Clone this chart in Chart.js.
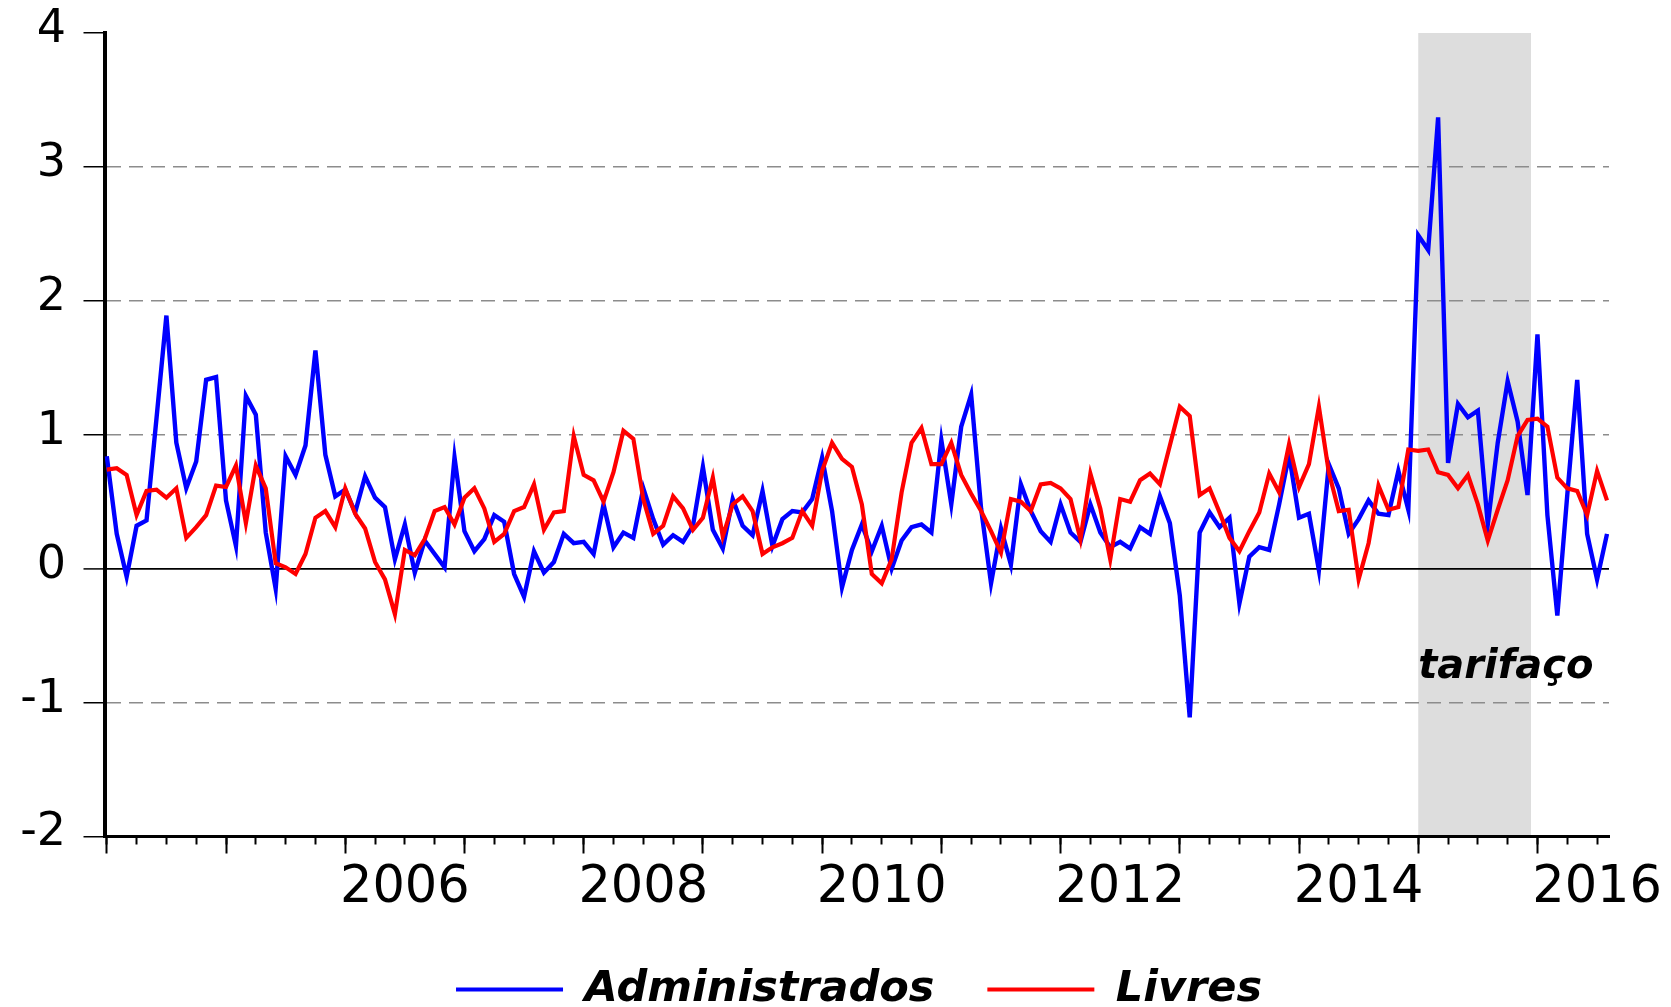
<!DOCTYPE html>
<html>
<head>
<meta charset="utf-8">
<script src="https://cdn.jsdelivr.net/npm/chart.js@4.4.1/dist/chart.umd.min.js"></script>
<style>
  html, body { margin: 0; padding: 0; background: #fff; }
  #wrap { width: 1671px; height: 1007px; position: relative; }
</style>
</head>
<body>
<div id="wrap"><canvas id="chart"></canvas></div>
<script>
// monthly variation (%), jan/2004 - aug/2016
const adm = [
  0.84, 0.26, -0.06, 0.32, 0.36, 1.12, 1.89, 0.94, 0.60, 0.80, 1.41, 1.43,
  0.51, 0.17, 1.29, 1.15, 0.27, -0.15, 0.84, 0.70, 0.92, 1.63, 0.85, 0.54,
  0.59, 0.42, 0.69, 0.53, 0.46, 0.07, 0.33, -0.03, 0.21, 0.11, 0.01, 0.83,
  0.28, 0.13, 0.22, 0.40, 0.35, -0.04, -0.21, 0.13, -0.03, 0.05, 0.26, 0.19,
  0.20, 0.11, 0.48, 0.16, 0.27, 0.23, 0.60, 0.37, 0.18, 0.25, 0.20, 0.32,
  0.76, 0.29, 0.15, 0.52, 0.32, 0.25, 0.58, 0.17, 0.37, 0.43, 0.42, 0.52,
  0.83, 0.43, -0.14, 0.14, 0.33, 0.13, 0.32, 0.00, 0.21, 0.31, 0.33, 0.27,
  0.96, 0.48, 1.06, 1.30, 0.45, -0.11, 0.30, 0.03, 0.63, 0.43, 0.28, 0.20,
  0.48, 0.27, 0.20, 0.48, 0.27, 0.16, 0.20, 0.15, 0.31, 0.26, 0.54, 0.34,
  -0.20, -1.11, 0.27, 0.42, 0.31, 0.38, -0.26, 0.09, 0.16, 0.14, 0.48, 0.85,
  0.38, 0.41, -0.01, 0.78, 0.60, 0.26, 0.37, 0.51, 0.41, 0.40, 0.73, 0.44,
  2.49, 2.38, 3.37, 0.79, 1.23, 1.13, 1.18, 0.33, 0.94, 1.40, 1.10, 0.55,
  1.75, 0.40, -0.35, 0.55, 1.41, 0.26, -0.08, 0.26
];
const livres = [
  0.74, 0.75, 0.70, 0.40, 0.58, 0.59, 0.53, 0.60, 0.23, 0.31, 0.40, 0.62,
  0.61, 0.77, 0.34, 0.77, 0.60, 0.04, 0.01, -0.04, 0.11, 0.38, 0.43, 0.31,
  0.60, 0.41, 0.30, 0.05, -0.08, -0.34, 0.14, 0.10, 0.22, 0.43, 0.46, 0.33,
  0.53, 0.60, 0.45, 0.20, 0.26, 0.43, 0.46, 0.63, 0.29, 0.42, 0.43, 0.99,
  0.70, 0.66, 0.50, 0.72, 1.03, 0.97, 0.52, 0.26, 0.32, 0.54, 0.45, 0.29,
  0.38, 0.68, 0.24, 0.48, 0.54, 0.43, 0.11, 0.16, 0.19, 0.23, 0.43, 0.32,
  0.73, 0.94, 0.82, 0.76, 0.48, -0.04, -0.11, 0.07, 0.57, 0.94, 1.05, 0.78,
  0.78, 0.94, 0.70, 0.56, 0.43, 0.28, 0.12, 0.52, 0.50, 0.43, 0.63, 0.64,
  0.60, 0.52, 0.22, 0.71, 0.45, 0.07, 0.52, 0.50, 0.66, 0.71, 0.63, 0.92,
  1.21, 1.14, 0.55, 0.60, 0.42, 0.23, 0.13, 0.28, 0.42, 0.71, 0.57, 0.93,
  0.61, 0.78, 1.21, 0.72, 0.43, 0.44, -0.08, 0.19, 0.62, 0.44, 0.46, 0.89,
  0.88, 0.89, 0.72, 0.70, 0.60, 0.70, 0.48, 0.21, 0.44, 0.66, 0.99, 1.11,
  1.12, 1.06, 0.68, 0.60, 0.58, 0.40, 0.73, 0.51
];

const startYear = 2004;
const months = adm.map((_, i) => (startYear + Math.floor(i / 12)) + '-' + String(i % 12 + 1).padStart(2, '0'));
const yearLabels = ['2006', '2008', '2010', '2012', '2014', '2016'];   // drawn under july of each year
const shadeStart = '2015-01';
const shadeEnd = '2015-12';
const shadeLabel = 'tarifaço';

const quarterTicks = months.map((m, i) => i).filter(i => i % 3 === 0);
const yearTicks = months.map((m, i) => i).filter(i => i % 12 === 0);

const xMin = -0.23, xMax = 151.2;

// grey band + its label
const tarifacoPlugin = {
  id: 'tarifaco',
  beforeDraw(chart) {
    const { ctx, chartArea, scales } = chart;
    const x0 = scales.x.getPixelForValue(months.indexOf(shadeStart));
    const x1 = scales.x.getPixelForValue(months.indexOf(shadeEnd) + 0.35);
    ctx.save();
    ctx.fillStyle = '#dddddd';
    ctx.fillRect(x0, chartArea.top, x1 - x0, chartArea.bottom - chartArea.top);
    ctx.restore();
  },
  afterDatasetsDraw(chart) {
    const { ctx, scales } = chart;
    ctx.save();
    ctx.font = 'italic bold 40px "DejaVu Sans"';
    ctx.fillStyle = '#000';
    ctx.textAlign = 'left';
    ctx.textBaseline = 'alphabetic';
    ctx.fillText(shadeLabel, scales.x.getPixelForValue(months.indexOf(shadeStart)), scales.y.getPixelForValue(-0.82));
    ctx.restore();
  }
};

const gridColor = (c) => {
  if (!c.tick) return 'rgba(0,0,0,0)';
  const v = c.tick.value;
  if (v === 0) return '#000000';
  if (v === 4 || v === -2) return 'rgba(0,0,0,0)';
  return '#8c8c8c';
};

new Chart(document.getElementById('chart'), {
  type: 'line',
  data: {
    datasets: [
      {
        label: 'Administrados',
        data: adm.map((v, i) => ({ x: i, y: v })),
        borderColor: '#0000ff',
        backgroundColor: '#0000ff',
        borderWidth: 4.4,
        pointRadius: 0,
        tension: 0,
        order: 1
      },
      {
        label: 'Livres',
        data: livres.map((v, i) => ({ x: i, y: v })),
        borderColor: '#ff0000',
        backgroundColor: '#ff0000',
        borderWidth: 4.2,
        pointRadius: 0,
        tension: 0,
        order: 0
      }
    ]
  },
  options: {
    responsive: true,
    maintainAspectRatio: false,
    animation: false,
    // negative right padding only to centre the legend under the plot area
    layout: { padding: { left: 0, right: -47, top: 33, bottom: -14 } },
    plugins: {
      tooltip: { enabled: false },
      legend: {
        position: 'bottom',
        labels: {
          color: '#000',
          font: { family: 'DejaVu Sans', size: 43, style: 'italic', weight: 'bold' },
          boxWidth: 107,
          boxHeight: 4,
          padding: 8,
          generateLabels: (chart) => chart.data.datasets.map((ds, i) => ({
            text: i === 0 ? ds.label + '   ' : ds.label,
            fillStyle: ds.borderColor,
            strokeStyle: ds.borderColor,
            lineWidth: 0,
            hidden: false,
            datasetIndex: i
          }))
        }
      }
    },
    scales: {
      x: {
        type: 'linear',
        position: 'bottom',
        weight: 1,
        min: xMin,
        max: xMax,
        afterBuildTicks: (s) => { s.ticks = quarterTicks.map(v => ({ value: v })); },
        afterFit: (s) => { s.height = 123.5; s.paddingLeft = 0; s.paddingRight = 0; },
        grid: { drawOnChartArea: false, drawTicks: true, tickLength: 8, tickWidth: 2, tickColor: '#000' },
        border: { display: true, color: '#000', width: 3 },
        ticks: {
          autoSkip: false,
          maxRotation: 0,
          minRotation: 0,
          padding: 14,
          color: '#000',
          font: { family: 'DejaVu Sans', size: 51 },
          callback: (v) => {
            const m = months[v];
            if (!m || !m.endsWith('-07')) return '';
            const y = m.slice(0, 4);
            return yearLabels.includes(y) ? y : '';
          }
        }
      },
      x2: {
        type: 'linear',
        position: 'bottom',
        weight: 0,
        min: xMin,
        max: xMax,
        afterBuildTicks: (s) => { s.ticks = yearTicks.map(v => ({ value: v })); },
        afterFit: (s) => { s.height = 0; s.paddingLeft = 0; s.paddingRight = 0; },
        grid: { drawOnChartArea: false, drawTicks: true, tickLength: 17, tickWidth: 2, tickColor: '#000' },
        border: { display: false },
        ticks: { display: false }
      },
      y: {
        type: 'linear',
        position: 'left',
        min: -2,
        max: 4,
        afterFit: (s) => { s.width = 104.5; s.paddingTop = 0; s.paddingBottom = 0; },
        ticks: {
          stepSize: 1,
          color: '#000',
          padding: 17.5,
          labelOffset: -3,
          font: { family: 'DejaVu Sans', size: 46 },
          callback: (v) => String(v)
        },
        grid: {
          color: gridColor,
          lineWidth: (c) => (c.tick && c.tick.value === 0 ? 1.8 : 1.5),
          drawTicks: true,
          tickLength: 21,
          tickWidth: 1.5,
          tickColor: '#000'
        },
        border: {
          display: true,
          color: '#000',
          width: 4,
          dash: (c) => (c.tick && c.tick.value !== 0 ? [14, 8] : [])
        }
      },
      y2: {
        type: 'linear',
        position: 'right',
        min: 0,
        max: 1,
        afterFit: (s) => { s.width = 109; s.paddingTop = 0; s.paddingBottom = 0; },
        grid: { display: false },
        border: { display: false },
        ticks: { display: false }
      }
    }
  },
  plugins: [tarifacoPlugin]
});
</script>
</body>
</html>
